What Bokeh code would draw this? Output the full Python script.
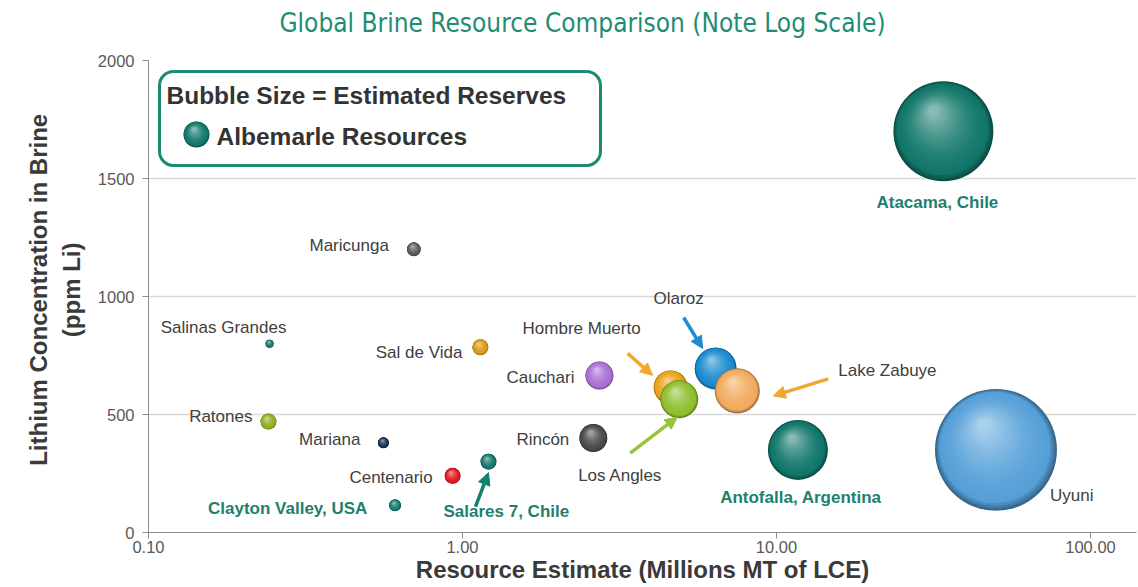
import math
from bokeh.plotting import figure
from bokeh.models import (ColumnDataSource, FixedTicker, Arrow, NormalHead,
                          BoxAnnotation, Label, Range1d)
from bokeh.core.properties import value
from bokeh.embed import file_html
from bokeh.resources import INLINE

# ---------------- data ----------------
title_text = "Global Brine Resource Comparison (Note Log Scale)"
x_label = "Resource Estimate (Millions MT of LCE)"
y_label_lines = ["Lithium Concentration in Brine", "(ppm Li)"]
names = ["Atacama, Chile", "Uyuni", "Antofalla, Argentina", "Olaroz", "Lake Zabuye",
         "Hombre Muerto", "Los Angles", "Cauchari", "Rincón", "Salares 7, Chile",
         "Centenario", "Clayton Valley,  USA", "Mariana", "Ratones", "Salinas Grandes",
         "Sal de Vida", "Maricunga"]
resource_mt = [34.0, 50.0, 11.7, 6.4, 7.5, 4.6, 4.9, 2.73, 2.61, 1.21,
               0.93, 0.61, 0.56, 0.241, 0.243, 1.14, 0.70]
lithium_ppm = [1700, 350, 350, 695, 600, 615, 565, 665, 400, 300,
               240, 115, 380, 470, 800, 785, 1200]
reserves = [6.25, 9.3, 2.25, 1.1, 1.27, 0.72, 0.9, 0.49, 0.49, 0.16,
            0.16, 0.09, 0.076, 0.16, 0.04, 0.16, 0.12]
albemarle = [True, False, True, False, False, False, False, False, False, True,
             False, True, False, False, True, False, False]
colors = ["#12776a", "#56a0d8", "#12776a", "#1b8ad0", "#f2aa5e",
          "#eba219", "#8fbf2e", "#a96fd6", "#4a4a4a", "#12776a",
          "#e0181e", "#12776a", "#17304f", "#8fae1c", "#12776a",
          "#d99a12", "#5a5a5a"]

x_ticks = [0.1, 1, 10, 100]
x_tick_labels = ["0.10", "1.00", "10.00", "100.00"]
y_ticks = [0, 500, 1000, 1500, 2000]

# ---------------- layout constants ----------------
LEFT, TOP = 148, 60          # position of the 2000 gridline / plot top
FW, FH = 988, 472            # plotted data area (0..2000)
PX_PER_DEC = 314.0
XMIN = 0.1
XMAX = XMIN * 10 ** (FW / PX_PER_DEC)
YMIN, YMAX = 0, 2000
UNIT_PER_PX = (YMAX - YMIN) / FH
Y_TOP = YMAX + TOP * UNIT_PER_PX   # frame extends up to the page top (title space)

TEAL = "#1a8a72"
LABEL_TEAL = "#1f7f6e"
TXT = "#404040"
FONT = "Liberation Sans"
NBSP = "\u00a0"


def shift_x(x, px):
    return x * 10 ** (px / PX_PER_DEC)


def shift_y(y, px_down):
    return y - px_down * UNIT_PER_PX


def px_x(px):
    return XMIN * 10 ** ((px - LEFT) / PX_PER_DEC)


def px_y(py):
    return YMAX - (py - TOP) * UNIT_PER_PX


def hex2rgb(h):
    h = h.lstrip("#")
    return [int(h[i:i + 2], 16) for i in (0, 2, 4)]


def rgb2hex(c):
    return "#%02x%02x%02x" % tuple(max(0, min(255, int(round(v)))) for v in c)


def mix(a, b, t):
    a, b = hex2rgb(a), hex2rgb(b)
    return rgb2hex([a[i] + (b[i] - a[i]) * t for i in range(3)])


def diameter(res):
    return 40.0 * math.sqrt(res)


p = figure(title=None, frame_width=FW, frame_height=FH + TOP, x_axis_type="log",
           x_range=Range1d(XMIN, XMAX), y_range=Range1d(YMIN, Y_TOP),
           output_backend="svg", toolbar_location=None,
           min_border_left=LEFT, min_border_top=0, min_border_right=2,
           min_border_bottom=55, background_fill_color="white",
           border_fill_color="white")
p.outline_line_color = None

# title, drawn inside the (extended) frame above the data area
p.add_layout(Label(x=px_x(582), y=px_y(22), text=title_text,
                   text_font="'Liberation Sans Narrow', 'DejaVu Sans Condensed', sans-serif",
                   text_font_size="26px", text_color="#1f8c74",
                   text_align="center", text_baseline="middle"))

# axes
xa = p.xaxis[0]
xa.ticker = FixedTicker(ticks=x_ticks, minor_ticks=[])
xa.major_label_overrides = dict(zip(x_ticks, x_tick_labels))
xa.axis_label = x_label
ya = p.yaxis[0]
ya.ticker = FixedTicker(ticks=y_ticks, minor_ticks=[])
ya.bounds = (YMIN, YMAX)
# trailing no-break spaces keep the rotated label centred on the 0..2000 span
ya.axis_label = "\n".join(line + NBSP * 7 for line in y_label_lines)
for ax in (xa, ya):
    ax.axis_line_color = "#8c8c8c"
    ax.major_tick_line_color = "#8c8c8c"
    ax.major_tick_in = 0
    ax.major_tick_out = 6
    ax.minor_tick_line_color = None
    ax.major_label_text_font = FONT
    ax.major_label_text_font_size = "16.5px"
    ax.major_label_text_color = "#595959"
    ax.axis_label_text_font = FONT
    ax.axis_label_text_font_size = "24px"
    ax.axis_label_text_font_style = "bold"
    ax.axis_label_text_color = "#3a3a3a"
xa.major_label_standoff = 2
xa.axis_label_standoff = 0
ya.major_label_standoff = 8
ya.axis_label_standoff = 10

p.xgrid.grid_line_color = None
p.ygrid.ticker = FixedTicker(ticks=y_ticks[1:-1])
p.ygrid.grid_line_color = "#d9d9d9"
p.ygrid.grid_line_width = 1.5

# ---------------- bubbles with shading ----------------
N_LAYERS = 32


def layer_specs(x, y, d, base):
    xs, ys, ss, cs = [], [], [], []
    dark = mix(base, "#000000", 0.35)
    light = mix(base, "#ffffff", 0.5)
    for i in range(N_LAYERS):
        t = i / (N_LAYERS - 1)
        frac = 1.0 - 0.9 * t
        s = d * frac
        shift = (d - s) / 2.0
        xs.append(shift_x(x, -0.22 * shift))
        ys.append(shift_y(y, -0.45 * shift))
        ss.append(s)
        if t < 0.1:
            c = mix(dark, base, t / 0.1)
        else:
            c = mix(base, light, ((t - 0.1) / 0.9) ** 1.6)
        cs.append(c)
    return dict(x=xs, y=ys, s=ss, c=cs)


for k in range(len(names)):
    src = ColumnDataSource(layer_specs(resource_mt[k], lithium_ppm[k],
                                       diameter(reserves[k]), colors[k]))
    p.scatter(x="x", y="y", size="s", fill_color="c", line_color=None, source=src)

# ---------------- labels ----------------
# (name -> x_offset px, y_offset px (down), align)
label_pos = {
    "Atacama, Chile": (-6, 71, "center"),
    "Uyuni": (54, 46, "left"),
    "Antofalla, Argentina": (3, 48, "center"),
    "Olaroz": (-37, -70, "center"),
    "Lake Zabuye": (101, -20, "left"),
    "Hombre Muerto": (-89, -59, "center"),
    "Los Angles": (-59, 76, "center"),
    "Cauchari": (-25, 2, "right"),
    "Rincón": (-24, 1, "right"),
    "Salares 7, Chile": (-45, 50, "left"),
    "Centenario": (-20, 2, "right"),
    "Clayton Valley,  USA": (-23, 3, "right"),
    "Mariana": (-23, -3, "right"),
    "Ratones": (-16, -5, "right"),
    "Salinas Grandes": (-46, -16, "center"),
    "Sal de Vida": (-18, 5, "right"),
    "Maricunga": (-25, -4, "right"),
}
for k, nm in enumerate(names):
    xo, yo, al = label_pos[nm]
    teal = albemarle[k] and nm != "Salinas Grandes"
    src = ColumnDataSource(dict(x=[resource_mt[k]], y=[lithium_ppm[k]], t=[nm]))
    p.text(x="x", y="y", text="t", source=src, x_offset=xo, y_offset=yo,
           text_align=al, text_baseline="middle",
           text_font=value(FONT),
           text_font_size="17px",
           text_font_style="bold" if teal else "normal",
           text_color=LABEL_TEAL if teal else TXT)

# ---------------- arrows ----------------
# (bubble, start offset px, end offset px (x right, y down), colour)
arrow_specs = [
    ("Olaroz", (-32, -51), (-13, -20), "#1f8dd0"),
    ("Hombre Muerto", (-43, -34), (-18, -12), "#f0a830"),
    ("Lake Zabuye", (91, -12), (36, 5), "#f0a830"),
    ("Los Angles", (-49, 54), (-2, 18), "#9ac43c"),
    ("Salares 7, Chile", (-13, 45), (0, 11), "#13806b"),
]
for nm, st, en, col in arrow_specs:
    k = names.index(nm)
    x0, y0 = resource_mt[k], lithium_ppm[k]
    p.add_layout(Arrow(x_start=shift_x(x0, st[0]), y_start=shift_y(y0, st[1]),
                       x_end=shift_x(x0, en[0]), y_end=shift_y(y0, en[1]),
                       line_color=col, line_width=3.5,
                       end=NormalHead(size=12, fill_color=col, line_color=col)))

# ---------------- legend box ----------------
p.add_layout(BoxAnnotation(left=px_x(159), right=px_x(600), top=px_y(71), bottom=px_y(165),
                           fill_color=None, fill_alpha=0.0,
                           line_color=TEAL, line_alpha=1.0, line_width=3,
                           border_radius=14))
p.add_layout(Label(x=px_x(166), y=px_y(95), text="Bubble Size = Estimated Reserves",
                   text_font=FONT, text_font_size="24.5px", text_font_style="bold",
                   text_color="#333333", text_baseline="middle"))
p.add_layout(Label(x=px_x(216), y=px_y(136), text="Albemarle Resources",
                   text_font=FONT, text_font_size="24.5px", text_font_style="bold",
                   text_color="#333333", text_baseline="middle"))
leg_src = ColumnDataSource(layer_specs(px_x(196), px_y(134), 26, colors[0]))
p.scatter(x="x", y="y", size="s", fill_color="c", line_color=None, source=leg_src)

open("out.html", "w").write(file_html(p, INLINE))
